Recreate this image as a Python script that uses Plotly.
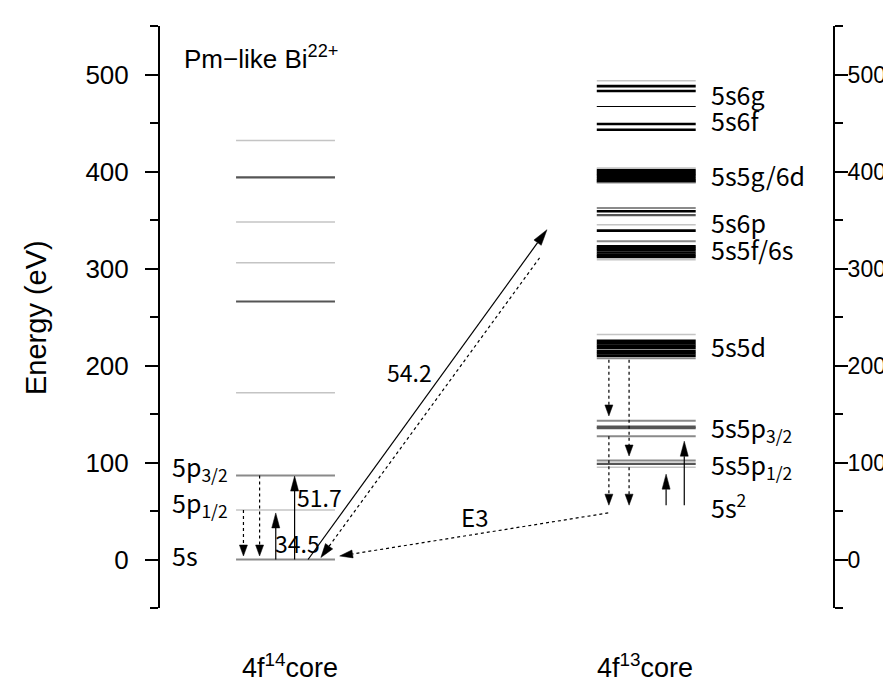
import math
import plotly.graph_objects as go

# ---------------- data ----------------
# 4f14 core (left column) level energies (eV)
left_levels = [0, 51, 86.5, 172, 266, 306, 348, 394, 432]
left_shades = ["m", "l", "m", "l", "d", "l", "l", "d", "l"]
left_label_text = ["5s", "5p<sub>1/2</sub>", "5p<sub>3/2</sub>"]
left_label_energy = [5, 58, 95]

# 4f13 core (right column) level energies (eV)
right_levels = [493.5, 488, 483, 467, 449, 443,
                403.5, 401.5, 399.5, 397.5, 395.5, 393, 391, 389.5, 388,
                362.5, 359, 355, 345, 339,
                328, 323, 321, 319, 316.5, 314, 312, 309,
                232, 225.5, 223, 220.5, 218, 215, 212.5, 210, 207.5,
                143, 137, 135.5, 127,
                102, 98.5, 95]
right_shades = ["l", "k", "k", "t", "k", "k",
                "l", "k", "k", "k", "k", "k", "k", "k", "l",
                "m", "k", "d", "l", "k",
                "m", "k", "k", "k", "k", "k", "k", "l",
                "l", "k", "k", "k", "k", "k", "k", "k", "m",
                "m", "d", "d", "m",
                "m", "d", "l"]
right_label_text = ["5s6g", "5s6f", "5s5g/6d", "5s6p", "5s5f/6s", "5s5d",
                    "5s5p<sub>3/2</sub>", "5s5p<sub>1/2</sub>", "5s<sup>2</sup>"]
right_label_energy = [480, 453, 396, 348, 320, 220, 135, 97, 55]

# transitions: (start energy, end energy)
left_dotted = [(51, 3.6), (86.5, 3.6)]
left_solid = [(0, 48), (0, 86)]
left_solid_labels = ["34.5", "51.7"]
cross_solid = (0, 340)
cross_dotted = (311, 2)
cross_label = "54.2"
e3_dotted = (48, 3.6)
e3_label = "E3"
right_dotted = [(206, 148), (127, 56), (206, 106.7), (95, 56)]
right_solid = [(56, 88), (56, 122)]

y_ticks = [0, 100, 200, 300, 400, 500]

# ---------------- layout geometry ----------------
W, H = 891, 685
ML, MR, MT, MB = 152, 66, 18, 85
XR = (0, 100)
YR = (-50, 550)
SX = (W - ML - MR) / (XR[1] - XR[0])
SY = (H - MT - MB) / (YR[1] - YR[0])

LEFT_SPAN = (11.3, 26.0)
RIGHT_SPAN = (64.9, 79.6)

shade_style = {
    "k": ("#000000", 2.6),
    "t": ("#000000", 1.2),
    "d": ("#555555", 2.2),
    "m": ("#8a8a8a", 2.0),
    "l": ("#c4c4c4", 1.5),
}

FONT_AX = "Liberation Sans, Arial, sans-serif"
FONT_LB = "Noto Sans CJK JP, sans-serif"

fig = go.Figure()


def add_levels(levels, shades, span):
    for key, (col, wid) in shade_style.items():
        xs, ys = [], []
        for e, s in zip(levels, shades):
            if s == key:
                xs += [span[0], span[1], None]
                ys += [e, e, None]
        if xs:
            fig.add_trace(go.Scatter(x=xs, y=ys, mode="lines",
                                     line=dict(color=col, width=wid),
                                     hoverinfo="skip", showlegend=False))


add_levels(left_levels, left_shades, LEFT_SPAN)
add_levels(right_levels, right_shades, RIGHT_SPAN)


def arrow(x0, y0, x1, y1, dotted=False, L=13, Wd=7):
    dx = (x1 - x0) * SX
    dy = (y1 - y0) * SY
    n = math.hypot(dx, dy)
    ux, uy = dx / n, dy / n
    bx = x1 * SX - L * ux
    by = y1 * SY - L * uy
    px, py = -uy, ux
    fig.add_trace(go.Scatter(
        x=[x0, bx / SX], y=[y0, by / SY], mode="lines",
        line=dict(color="black", width=1.2, dash="dot" if dotted else "solid"),
        hoverinfo="skip", showlegend=False))
    hx = [x1, (bx + px * Wd / 2) / SX, (bx - px * Wd / 2) / SX, x1]
    hy = [y1, (by + py * Wd / 2) / SY, (by - py * Wd / 2) / SY, y1]
    fig.add_trace(go.Scatter(
        x=hx, y=hy, mode="lines", fill="toself", fillcolor="black",
        line=dict(color="black", width=0.5), hoverinfo="skip", showlegend=False))


for xc, (a, b) in zip([12.4, 14.8], left_dotted):
    arrow(xc, a, xc, b, dotted=True, L=11, Wd=8)
for xc, (a, b) in zip([17.2, 20.0], left_solid):
    arrow(xc, a, xc, b, L=15, Wd=8)
arrow(22.0, cross_solid[0], 57.5, cross_solid[1], L=16, Wd=9)
arrow(56.4, cross_dotted[0], 23.9, cross_dotted[1], dotted=True, L=14, Wd=9)
arrow(66.6, e3_dotted[0], 26.7, e3_dotted[1], dotted=True, L=13, Wd=8)
for xc, (a, b) in zip([66.7, 66.7, 69.7, 69.7], right_dotted):
    arrow(xc, a, xc, b, dotted=True, L=11, Wd=8)
for xc, (a, b) in zip([75.2, 77.9], right_solid):
    arrow(xc, a, xc, b, L=15, Wd=8)

fig.add_trace(go.Scatter(x=[None], y=[None], yaxis="y2", showlegend=False))

ann = []
for t, e in zip(left_label_text, left_label_energy):
    ann.append(dict(x=1.5, y=e, xref="x", yref="y", text=t, showarrow=False,
                    xanchor="left", yanchor="middle",
                    font=dict(family=FONT_LB, size=25, color="black")))
for t, e in zip(right_label_text, right_label_energy):
    ann.append(dict(x=81.6, y=e, xref="x", yref="y", text=t, showarrow=False,
                    xanchor="left", yanchor="middle",
                    font=dict(family=FONT_LB, size=25, color="black")))
for t, xx, yy in zip(left_solid_labels, [20.5, 23.7], [17, 64]):
    ann.append(dict(x=xx, y=yy, xref="x", yref="y", text=t, showarrow=False,
                    xanchor="center", yanchor="middle",
                    font=dict(family=FONT_LB, size=23, color="black")))
ann.append(dict(x=37.1, y=193, xref="x", yref="y", text=cross_label, showarrow=False,
                xanchor="center", yanchor="middle",
                font=dict(family=FONT_LB, size=23, color="black")))
ann.append(dict(x=46.7, y=44, xref="x", yref="y", text=e3_label, showarrow=False,
                xanchor="center", yanchor="middle",
                font=dict(family=FONT_LB, size=24, color="black")))
ann.append(dict(x=3.2, y=518, xref="x", yref="y", text="Pm\u2212like Bi<sup>22+</sup>",
                showarrow=False, xanchor="left", yanchor="middle",
                font=dict(family=FONT_AX, size=26, color="black")))
for t, xx in zip(["4f<sup>14</sup>core", "4f<sup>13</sup>core"],
                 [sum(LEFT_SPAN) / 2 + 0.6, sum(RIGHT_SPAN) / 2 - 0.2]):
    ann.append(dict(x=xx, y=-0.10, xref="x", yref="paper", text=t, showarrow=False,
                    xanchor="center", yanchor="middle",
                    font=dict(family=FONT_AX, size=27, color="black")))
ann.append(dict(x=(28 - ML) / (W - ML - MR), y=0.5, xref="paper", yref="paper",
                text="Energy (eV)", textangle=-90, showarrow=False,
                xanchor="center", yanchor="middle",
                font=dict(family=FONT_AX, size=29, color="black")))

axis_common = dict(
    range=list(YR), showline=True, linecolor="black", linewidth=2,
    ticks="outside", ticklen=13, tickwidth=2, tickcolor="black",
    tickvals=y_ticks, showgrid=False, zeroline=False, automargin=False,
    minor=dict(dtick=50, tick0=0, ticks="outside", ticklen=8, tickwidth=2,
               tickcolor="black", showgrid=False),
)

fig.update_layout(
    width=W, height=H,
    margin=dict(l=ML, r=MR, t=MT, b=MB, autoexpand=False),
    paper_bgcolor="white", plot_bgcolor="white",
    xaxis=dict(range=list(XR), visible=False, automargin=False),
    yaxis=dict(**axis_common, side="left", ticklabelstandoff=11,
               tickfont=dict(family=FONT_AX, size=26, color="black")),
    yaxis2=dict(**axis_common, side="right", overlaying="y", ticklabelstandoff=-5,
                tickfont=dict(family=FONT_AX, size=23, color="black")),
    annotations=ann,
    showlegend=False,
)

fig.write_html("out.html")
